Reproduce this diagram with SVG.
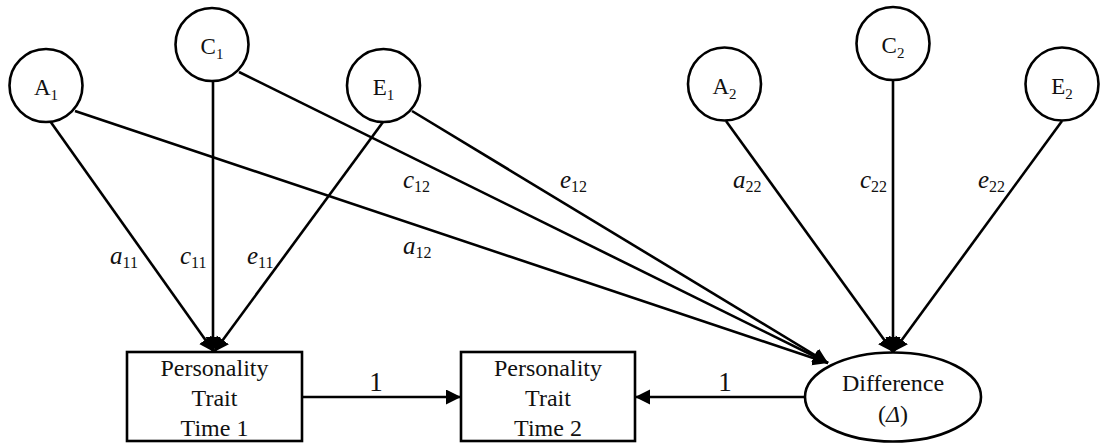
<svg xmlns="http://www.w3.org/2000/svg" width="1101" height="443" viewBox="0 0 1101 443">
<style>
.n{fill:#fff;stroke:#000;stroke-width:2.6}
.t{font-family:"Liberation Serif","Times New Roman",serif;fill:#111;text-anchor:middle}
.lb{font-family:"Liberation Serif","Times New Roman",serif;font-style:italic;font-size:25px;fill:#111}
.sub{font-style:normal;font-size:16px}
.c line{stroke:#000;stroke-width:2.6;marker-end:url(#ah)}
</style>
<defs>
<marker id="ah" markerUnits="userSpaceOnUse" markerWidth="16" markerHeight="16" refX="15" refY="7.5" orient="auto"><path d="M0,0 L15,7.5 L0,15 Z" fill="#000"/></marker>
</defs>
<rect width="1101" height="443" fill="#fff"/>
<g class="c" id="connectors">
<line x1="50" y1="121" x2="214" y2="352"/>
<line x1="213" y1="81" x2="213" y2="352"/>
<line x1="383" y1="122" x2="214" y2="352"/>
<line x1="75" y1="111" x2="828" y2="363"/>
<line x1="239" y1="72" x2="828" y2="363"/>
<line x1="412" y1="111" x2="828" y2="363"/>
<line x1="726" y1="121" x2="893" y2="352"/>
<line x1="893" y1="80" x2="893" y2="352"/>
<line x1="1062" y1="121" x2="893" y2="352"/>
<line x1="302" y1="397" x2="461" y2="397"/>
<line x1="805" y1="397" x2="635" y2="397"/>
</g>
<g id="labels">
<text class="lb" x="110" y="264">a<tspan class="sub" dy="4">11</tspan></text>
<text class="lb" x="180" y="264">c<tspan class="sub" dy="4">11</tspan></text>
<text class="lb" x="247" y="264">e<tspan class="sub" dy="4">11</tspan></text>
<text class="lb" x="403" y="254">a<tspan class="sub" dy="4">12</tspan></text>
<text class="lb" x="403" y="188">c<tspan class="sub" dy="4">12</tspan></text>
<text class="lb" x="560" y="188">e<tspan class="sub" dy="4">12</tspan></text>
<text class="lb" x="733" y="188">a<tspan class="sub" dy="4">22</tspan></text>
<text class="lb" x="860" y="188">c<tspan class="sub" dy="4">22</tspan></text>
<text class="lb" x="978" y="188">e<tspan class="sub" dy="4">22</tspan></text>
<text class="t" x="376" y="391" font-size="27">1</text>
<text class="t" x="725" y="391" font-size="27">1</text>
</g>
<g id="A1"><circle class="n" cx="46" cy="85.5" r="36.5"/><text class="t" x="46" y="95" font-size="23">A<tspan font-size="15" dy="5">1</tspan></text></g>
<g id="C1"><circle class="n" cx="212" cy="44.5" r="36.5"/><text class="t" x="212" y="54" font-size="23">C<tspan font-size="15" dy="5">1</tspan></text></g>
<g id="E1"><circle class="n" cx="383.5" cy="85.5" r="36.5"/><text class="t" x="383.5" y="95" font-size="23">E<tspan font-size="15" dy="5">1</tspan></text></g>
<g id="A2"><circle class="n" cx="724.5" cy="84" r="36.5"/><text class="t" x="724.5" y="93.5" font-size="23">A<tspan font-size="15" dy="5">2</tspan></text></g>
<g id="C2"><circle class="n" cx="893" cy="43.5" r="36.5"/><text class="t" x="893" y="53" font-size="23">C<tspan font-size="15" dy="5">2</tspan></text></g>
<g id="E2"><circle class="n" cx="1062" cy="84" r="36.5"/><text class="t" x="1062" y="93.5" font-size="23">E<tspan font-size="15" dy="5">2</tspan></text></g>
<g id="PT1"><rect class="n" x="127" y="352" width="175" height="89"/><text class="t" x="214.5" font-size="24"><tspan x="214.5" y="376">Personality</tspan><tspan x="214.5" y="406">Trait</tspan><tspan x="214.5" y="436">Time 1</tspan></text></g>
<g id="PT2"><rect class="n" x="461" y="352" width="174" height="89"/><text class="t" x="548" font-size="24"><tspan x="548" y="376">Personality</tspan><tspan x="548" y="406">Trait</tspan><tspan x="548" y="436">Time 2</tspan></text></g>
<g id="Diff"><ellipse class="n" cx="893" cy="397" rx="88" ry="44.5"/><text class="t" x="893" font-size="24"><tspan x="893" y="391">Difference</tspan><tspan x="893" y="422">(<tspan font-style="italic">Δ</tspan>)</tspan></text></g>
</svg>
